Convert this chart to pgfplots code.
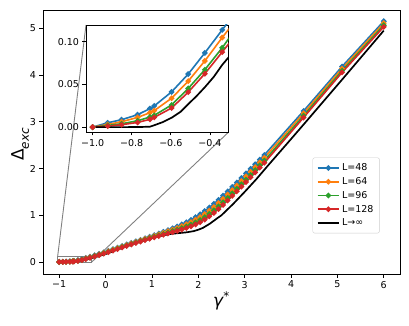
\documentclass[border=0pt]{standalone}
\usepackage{pgfplots}
\usepackage{pgfplotstable}
\usepackage{fontspec}
\setmainfont{DejaVu Sans}
\pgfplotsset{compat=1.18}
\definecolor{tabblue}{HTML}{1F77B4}
\definecolor{taborange}{HTML}{FF7F0E}
\definecolor{tabgreen}{HTML}{2CA02C}
\definecolor{tabred}{HTML}{D62728}

% gamma* vs Delta_exc, one table per system size
\pgfplotstableread{
g d
-1.000 0
-0.923 0.0051
-0.852 0.0087
-0.770 0.0146
-0.707 0.0217
-0.685 0.0248
-0.596 0.0413
-0.511 0.0622
-0.426 0.0870
-0.337 0.114
-0.238 0.144
-0.139 0.175
-0.040 0.207
0.059 0.240
0.158 0.274
0.257 0.308
0.356 0.342
0.455 0.375
0.554 0.408
0.653 0.441
0.752 0.474
0.851 0.507
0.950 0.540
1.049 0.574
1.148 0.609
1.247 0.645
1.346 0.682
1.445 0.720
1.544 0.760
1.643 0.802
1.742 0.848
1.841 0.900
1.940 0.958
2.039 1.020
2.138 1.090
2.237 1.165
2.336 1.245
2.435 1.330
2.534 1.418
2.633 1.510
2.732 1.605
2.831 1.700
2.930 1.797
3.029 1.894
3.128 1.992
3.227 2.091
3.326 2.190
3.425 2.290
4.270 3.230
5.100 4.180
6.000 5.150
}\tabA
\pgfplotstableread{
g d
-1.000 0
-0.923 0.0031
-0.852 0.0063
-0.770 0.0114
-0.707 0.0169
-0.685 0.0193
-0.596 0.0339
-0.511 0.0539
-0.426 0.0776
-0.337 0.105
-0.238 0.134
-0.139 0.165
-0.040 0.197
0.059 0.230
0.158 0.264
0.257 0.297
0.356 0.331
0.455 0.364
0.554 0.396
0.653 0.429
0.752 0.461
0.851 0.493
0.950 0.525
1.049 0.557
1.148 0.590
1.247 0.623
1.346 0.657
1.445 0.691
1.544 0.727
1.643 0.765
1.742 0.805
1.841 0.852
1.940 0.904
2.039 0.960
2.138 1.026
2.237 1.098
2.336 1.177
2.435 1.261
2.534 1.349
2.633 1.442
2.732 1.538
2.831 1.634
2.930 1.732
3.029 1.830
3.128 1.929
3.227 2.029
3.326 2.130
3.425 2.231
4.270 3.181
5.100 4.136
6.000 5.108
}\tabB
\pgfplotstableread{
g d
-1.000 0
-0.923 0.0020
-0.852 0.0039
-0.770 0.0075
-0.707 0.0118
-0.685 0.0138
-0.596 0.0260
-0.511 0.0453
-0.426 0.0673
-0.337 0.093
-0.238 0.125
-0.139 0.155
-0.040 0.186
0.059 0.218
0.158 0.252
0.257 0.286
0.356 0.320
0.455 0.352
0.554 0.384
0.653 0.417
0.752 0.448
0.851 0.479
0.950 0.509
1.049 0.539
1.148 0.569
1.247 0.600
1.346 0.630
1.445 0.661
1.544 0.692
1.643 0.725
1.742 0.760
1.841 0.801
1.940 0.846
2.039 0.898
2.138 0.959
2.237 1.028
2.336 1.105
2.435 1.188
2.534 1.276
2.633 1.370
2.732 1.467
2.831 1.564
2.930 1.663
3.029 1.762
3.128 1.862
3.227 1.964
3.326 2.066
3.425 2.169
4.270 3.129
5.100 4.090
6.000 5.064
}\tabC
\pgfplotstableread{
g d
-1.000 0
-0.923 0.0012
-0.852 0.0028
-0.770 0.0055
-0.707 0.0091
-0.685 0.0114
-0.596 0.0224
-0.511 0.0410
-0.426 0.0626
-0.337 0.088
-0.238 0.117
-0.139 0.147
-0.040 0.178
0.059 0.210
0.158 0.244
0.257 0.277
0.356 0.311
0.455 0.343
0.554 0.375
0.653 0.407
0.752 0.438
0.851 0.468
0.950 0.497
1.049 0.526
1.148 0.554
1.247 0.582
1.346 0.610
1.445 0.638
1.544 0.666
1.643 0.695
1.742 0.726
1.841 0.762
1.940 0.803
2.039 0.850
2.138 0.908
2.237 0.975
2.336 1.050
2.435 1.133
2.534 1.221
2.633 1.315
2.732 1.413
2.831 1.511
2.930 1.611
3.029 1.711
3.128 1.812
3.227 1.915
3.326 2.018
3.425 2.122
4.270 3.090
5.100 4.055
6.000 5.030
}\tabD
\pgfplotstableread{
g d
-1.000 0
-0.850 0
-0.770 0.0001
-0.707 0.0005
-0.685 0.0022
-0.640 0.0060
-0.596 0.0110
-0.550 0.0180
-0.511 0.0270
-0.470 0.0360
-0.425 0.0470
-0.380 0.0590
-0.337 0.073
-0.200 0.110
0.000 0.170
0.300 0.280
0.670 0.410
1.000 0.510
1.200 0.560
1.400 0.600
1.600 0.620
1.750 0.635
1.900 0.660
2.000 0.690
2.100 0.730
2.250 0.820
2.400 0.930
2.500 1.000
2.750 1.240
3.000 1.500
3.250 1.770
3.500 2.060
4.000 2.630
4.270 2.940
5.100 3.900
6.000 4.950
}\tabInf

\pgfplotsset{
  every axis/.append style={
    scale only axis, tick align=outside, tick pos=left,
    major tick length=3.5pt,
    axis line style={line width=0.7pt},
    tick style={black, line width=0.7pt},
    tick label style={font=\fontsize{9.5}{11}\selectfont},
  },
  pt/.style={mark=*, mark size=1.9pt, line width=1.6pt, mark options={solid}},
}

\begin{document}
\begin{tikzpicture}
\begin{axis}[
    name=main,
    width=357pt, height=264pt,
    xmin=-1.35, xmax=6.35, ymin=-0.257, ymax=5.39,
    xtick={-1,0,...,6}, xticklabels={−1,0,1,2,3,4,5,6},
    ytick={0,...,5}, yticklabels={0,1,2,3,4,5},
    xlabel={\fontsize{17}{20}\selectfont\itshape γ\textsuperscript{\upshape *}},
    xlabel style={at={(axis description cs:0.5,-0.102)}, anchor=center},
    ylabel={\fontsize{17}{20}\selectfont Δ\raisebox{-0.3em}{\fontsize{12}{13}\selectfont\itshape exc}},
    ylabel style={at={(axis description cs:-0.064,0.49)}, anchor=center},
    legend style={at={(0.943,0.154)}, anchor=south east, draw=black!20,
      rounded corners=2pt, font=\fontsize{9.5}{11}\selectfont,
      row sep=1.2pt, inner xsep=4pt, inner ysep=4pt},
    legend cell align=left,
    legend image code/.code={
      \draw[mark repeat=2, mark phase=2, #1] plot coordinates {(0cm,0cm) (0.38cm,0cm) (0.76cm,0cm)};
    },
]
\addplot[pt, tabblue] table[x=g, y=d] {\tabA};
\addlegendentry{L=48}
\addplot[pt, taborange] table[x=g, y=d] {\tabB};
\addlegendentry{L=64}
\addplot[pt, tabgreen] table[x=g, y=d] {\tabC};
\addlegendentry{L=96}
\addplot[pt, tabred] table[x=g, y=d] {\tabD};
\addlegendentry{L=128}
\addplot[black, line width=1.7pt] table[x=g, y=d] {\tabInf};
\addlegendentry{L→∞}
\draw[gray, line width=0.9pt] (axis cs:-1.034,-0.0057) rectangle (axis cs:-0.304,0.1197);
\draw[gray, line width=0.9pt] (axis cs:-1.034,0.1197) -- (rel axis cs:0.1204,0.9432);
\draw[gray, line width=0.9pt] (axis cs:-0.304,-0.0057) -- (rel axis cs:0.5202,0.5379);
\coordinate (insetSW) at (rel axis cs:0.1204,0.5379);
\end{axis}
\begin{axis}[
    at={(insetSW)}, anchor=south west,
    width=142.7pt, height=107pt,
    axis background/.style={fill=white},
    xmin=-1.034, xmax=-0.304, ymin=-0.0057, ymax=0.1197,
    xtick={-1,-0.8,-0.6,-0.4}, xticklabels={−1.0,−0.8,−0.6,−0.4},
    ytick={0,0.05,0.1}, yticklabels={0.00,0.05,0.10},
]
\addplot[pt, tabblue] table[x=g, y=d] {\tabA};
\addplot[pt, taborange] table[x=g, y=d] {\tabB};
\addplot[pt, tabgreen] table[x=g, y=d] {\tabC};
\addplot[pt, tabred] table[x=g, y=d] {\tabD};
\addplot[black, line width=1.7pt] table[x=g, y=d] {\tabInf};
\end{axis}
\pgfresetboundingbox
\path[use as bounding box] (main.south west) ++(-43pt,-51pt) rectangle ++(409pt,325pt);
\end{tikzpicture}
\end{document}
